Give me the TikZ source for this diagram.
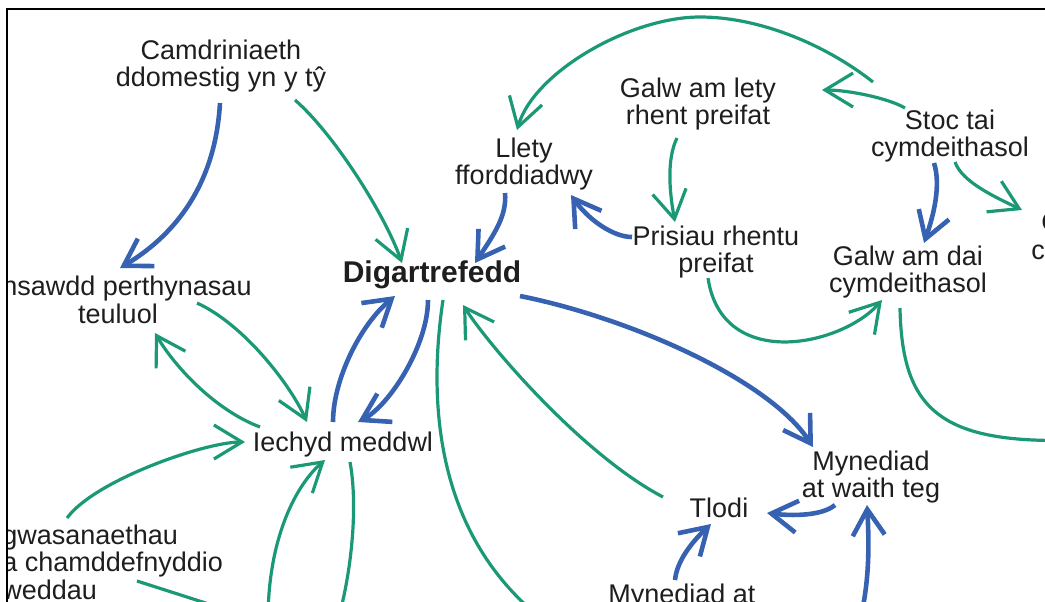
\documentclass[tikz,border=0pt]{standalone}
\usepackage{fontspec}
\setmainfont{Liberation Sans}
\usetikzlibrary{arrows.meta}
\definecolor{tealgreen}{RGB}{27,153,118}
\definecolor{linkblue}{RGB}{55,98,178}
\definecolor{inkgrey}{RGB}{30,30,30}
\tikzset{
  lbl/.style={font=\fontsize{13.5}{13.8}\selectfont, text=inkgrey, align=center, inner sep=0pt},
  greenlink/.style={draw=tealgreen, line width=1.6pt, -{Straight Barb[length=14pt,width=17pt]}},
  bluelink/.style={draw=linkblue, line width=2.3pt, -{Straight Barb[length=13pt,width=16pt]}},
}
\begin{document}
\begin{tikzpicture}[x=0.5pt,y=-0.5pt]
% \draw[help lines, gray] (0,0) grid[step=50] (1045,601);
\useasboundingbox (0,0) rectangle (1045,601);
\draw[line width=1pt] (7,640) -- (7,9) -- (1080,9);
\begin{scope}
\clip (8,10) rectangle (1045,601);
\node (camd) [lbl] at (221,66) {Camdriniaeth\\ddomestig yn y tŷ};
\node (teulu) [lbl] at (118,300) {\phantom{A}nsawdd perthynasau\\teuluol};
\node (digart) [lbl, font=\fontsize{15}{16}\selectfont\bfseries] at (432,275) {Digartrefedd};
\node (llety) [lbl] at (524,164) {Llety\\fforddiadwy};
\node (galwlety) [lbl] at (698,104) {Galw am lety\\rhent preifat};
\node (stoc) [lbl] at (950,136) {Stoc tai\\cymdeithasol};
\node (prisiau) [lbl] at (716,252) {Prisiau rhentu\\preifat};
\node (galwdai) [lbl] at (908,272) {Galw am dai\\cymdeithasol};
\node (cutr) [lbl, align=left, anchor=west] at (1031,236) {\hspace*{5pt}G\\c};
\node (iechyd) [lbl] at (343,445) {Iechyd meddwl};
\node (mynediad) [lbl] at (871,477) {Mynediad\\at waith teg};
\node (tlodi) [lbl] at (719,508) {Tlodi};
\node (gwas) [lbl, align=left, anchor=west] at (2,562) {gwasanaethau\\a chamddefnyddio\\weddau};
\node (mynat) [lbl] at (682,597) {Mynediad at};
\coordinate (loopend) at (1080,440);
\coordinate (digout) at (537,615);
\coordinate (gwasout) at (240,614);
\coordinate (iechin) at (268,620);
\coordinate (iechout) at (338,620);
\coordinate (mynin) at (860,620);
% top half
\draw[bluelink] ([shift={(-1,37)}]camd.center) .. controls (215,190) and (170,238) .. ([shift={(2,-32)}]teulu.center);
\draw[greenlink] ([shift={(74,34)}]camd.center) .. controls (335,135) and (385,215) .. ([shift={(-30,-12)}]digart.center);
\draw[bluelink] ([shift={(-19,29)}]llety.center) .. controls (507,215) and (495,233) .. ([shift={(43,-12)}]digart.center);
\draw[greenlink] ([shift={(-77,-54)}]stoc.center) .. controls (826,45) and (760,17) .. (700,17)
  .. controls (630,17) and (534,72) .. ([shift={(-7,-34)}]llety.center);
\draw[greenlink] ([shift={(-45,-28)}]stoc.center) .. controls (888,98) and (848,90) .. ([shift={(124,-14)}]galwlety.center);
\draw[greenlink] ([shift={(-21,34)}]galwlety.center) .. controls (666,160) and (670,195) .. ([shift={(-41,-30)}]prisiau.center);
\draw[bluelink] ([shift={(-84,-15)}]prisiau.center) .. controls (612,237) and (587,218) .. ([shift={(47,31)}]llety.center);
\draw[bluelink] ([shift={(-16,27)}]stoc.center) .. controls (941,185) and (934,214) .. ([shift={(16,-29)}]galwdai.center);
\draw[greenlink] ([shift={(5,26)}]stoc.center) .. controls (962,182) and (995,197) .. ([shift={(-9,-26)}]cutr.west);
\draw[greenlink] ([shift={(-8,26)}]prisiau.center) .. controls (722,372) and (842,346) .. ([shift={(-26,28)}]galwdai.center);
\draw[greenlink, -] ([shift={(-8,36)}]galwdai.center) .. controls (902,410) and (940,445) .. (loopend);
% middle and bottom
\draw[bluelink] ([shift={(88,21)}]digart.center) .. controls (630,318) and (770,380) .. ([shift={(-58,-30)}]mynediad.center);
\draw[bluelink] ([shift={(-36,28)}]mynediad.center) .. controls (822,516) and (792,516) .. ([shift={(48,5)}]tlodi.center);
\draw[bluelink] ([shift={(-7,-17)}]mynat.center) .. controls (677,560) and (693,541) .. ([shift={(-8,16)}]tlodi.center);
\draw[bluelink] (mynin) .. controls (870,580) and (869,540) .. ([shift={(-4,28)}]mynediad.center);
\draw[greenlink] ([shift={(-56,-11)}]tlodi.center) .. controls (583,455) and (490,347) .. ([shift={(31,30)}]digart.center);
\draw[greenlink, -] ([shift={(11,25)}]digart.center) .. controls (428,400) and (435,530) .. (digout);
\draw[bluelink] ([shift={(-10,-23)}]iechyd.center) .. controls (333,380) and (360,325) .. ([shift={(-37,21)}]digart.center);
\draw[bluelink] ([shift={(-4,25)}]digart.center) .. controls (428,345) and (390,405) .. ([shift={(15,-23)}]iechyd.center);
\draw[greenlink] ([shift={(79,3)}]teulu.center) .. controls (245,325) and (291,386) .. ([shift={(-36,-23)}]iechyd.center);
\draw[greenlink] ([shift={(-83,-18)}]iechyd.center) .. controls (215,410) and (175,367) .. ([shift={(37,33)}]teulu.center);
\draw[greenlink] ([shift={(65,-44)}]gwas.west) .. controls (95,480) and (205,442) .. ([shift={(-98,-3)}]iechyd.center);
\draw[greenlink, -] ([shift={(135,19)}]gwas.west) -- (gwasout);
\draw[greenlink] (iechin) .. controls (268,535) and (298,483) .. ([shift={(-18,15)}]iechyd.center);
\draw[greenlink, -] ([shift={(7,17)}]iechyd.center) .. controls (358,505) and (352,570) .. (iechout);
\end{scope}
\end{tikzpicture}
\end{document}
